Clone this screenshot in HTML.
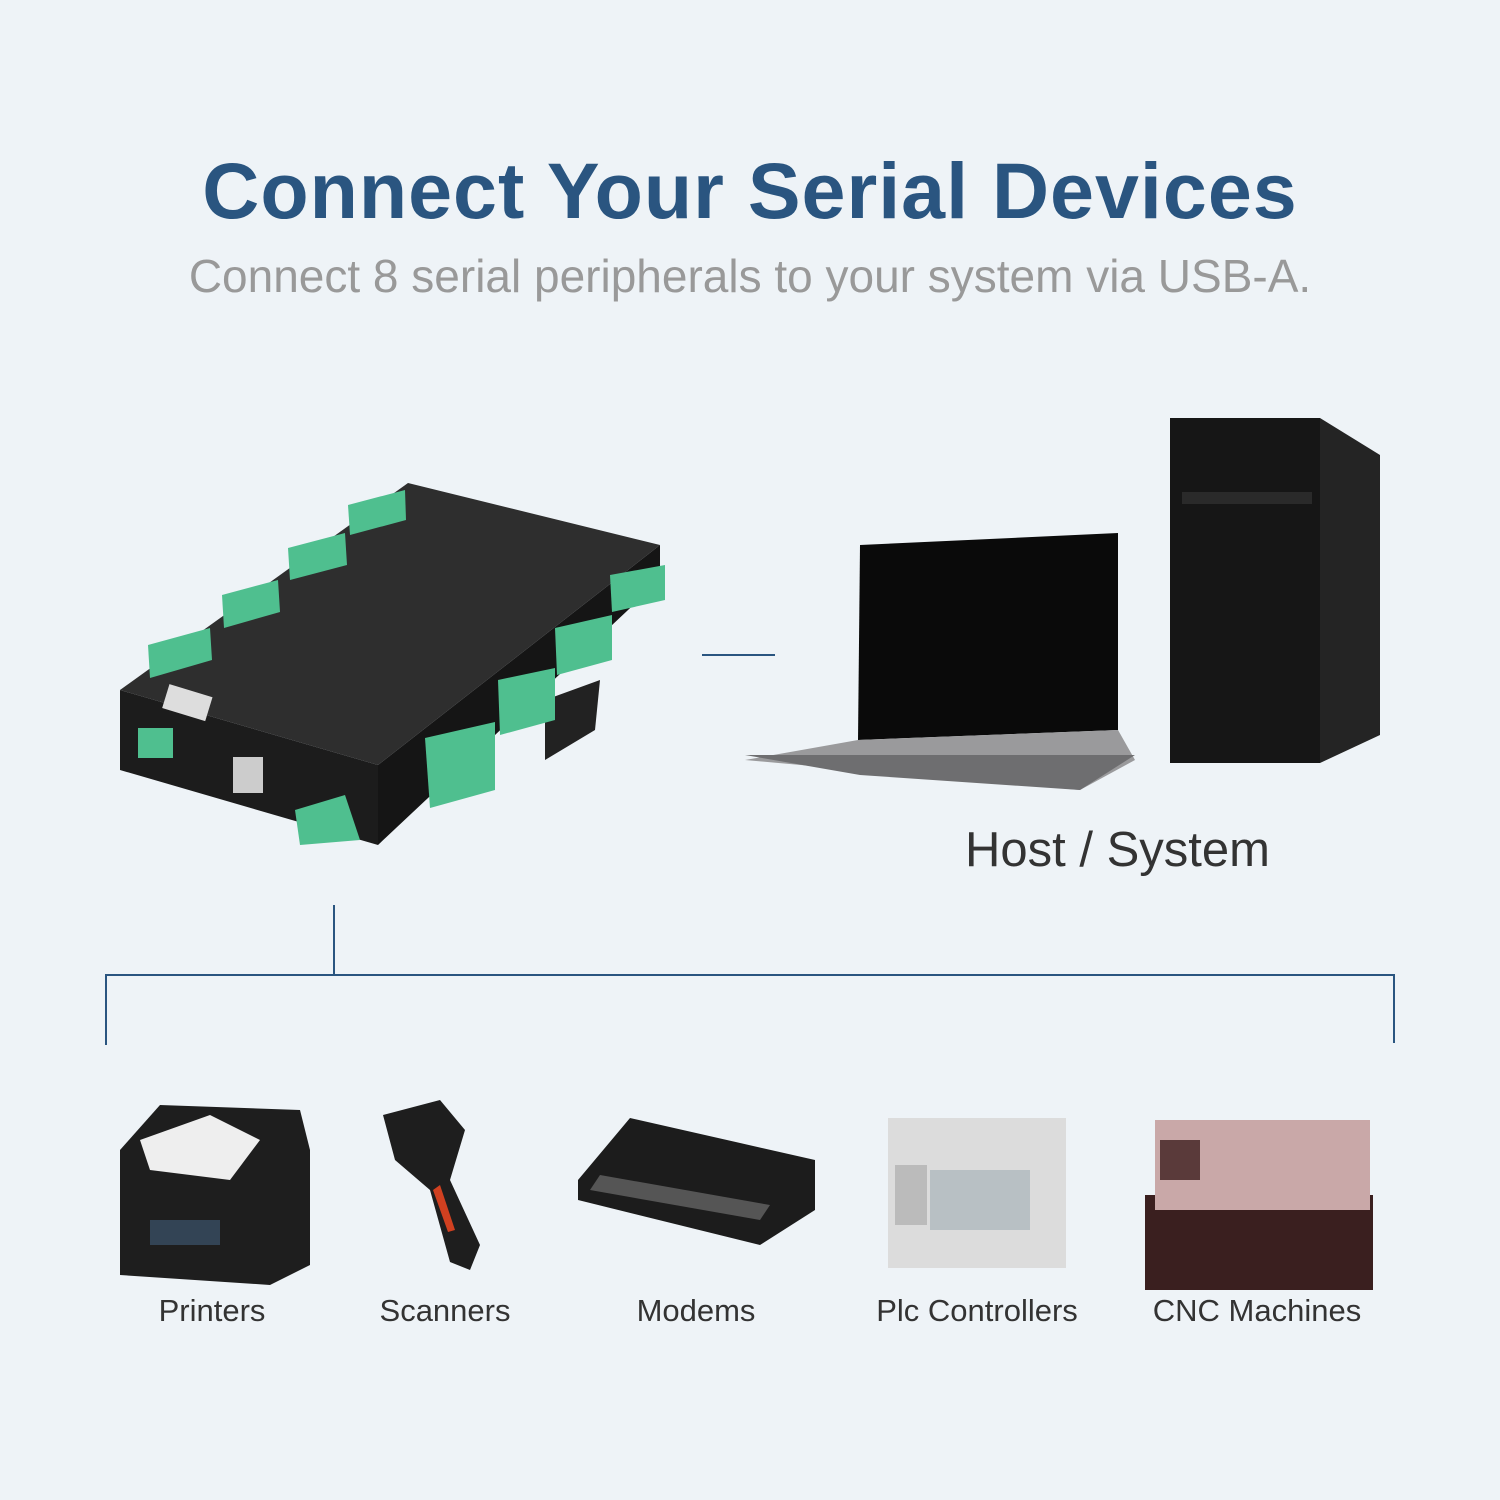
<!DOCTYPE html>
<html><head><meta charset="utf-8"><style>
html,body{margin:0;padding:0}
body{width:1500px;height:1500px;background:#eef3f7;position:relative;overflow:hidden;font-family:"Liberation Sans",sans-serif}
.t{position:absolute;left:0;width:1500px;text-align:center;white-space:nowrap}
.lbl{position:absolute;font-size:31px;color:#333;text-align:center;width:300px;top:1293px;white-space:nowrap}
</style></head><body>
<div class="t" style="top:145px;font-size:79px;font-weight:bold;color:#2a5580;letter-spacing:1px">Connect Your Serial Devices</div>
<div class="t" style="top:249px;font-size:46px;color:#999">Connect 8 serial peripherals to your system via USB-A.</div>
<div style="position:absolute;left:965px;top:822px;font-size:49px;color:#333;white-space:nowrap">Host / System</div>
<div class="lbl" style="left:62px">Printers</div>
<div class="lbl" style="left:295px">Scanners</div>
<div class="lbl" style="left:546px">Modems</div>
<div class="lbl" style="left:827px">Plc Controllers</div>
<div class="lbl" style="left:1107px">CNC Machines</div>
<svg width="1500" height="1500" style="position:absolute;left:0;top:0">
<g stroke="#2a5580" stroke-width="2" fill="none">
<line x1="702" y1="655" x2="775" y2="655"/>
<line x1="334" y1="905" x2="334" y2="975"/>
<polyline points="106,1045 106,975 1394,975 1394,1043"/>
</g>
<!-- hub -->
<polygon points="545,700 600,680 595,730 545,760" fill="#222"/>
<polygon points="120,690 378,765 378,845 120,770" fill="#1c1c1c"/>
<polygon points="378,765 660,545 660,580 378,845" fill="#151515"/>
<polygon points="120,690 408,483 660,545 378,765" fill="#2e2e2e"/>
<g fill="#4fbf8f">
<polygon points="148,645 210,628 212,660 150,678"/>
<polygon points="222,595 278,580 280,612 224,628"/>
<polygon points="288,548 345,533 347,565 290,580"/>
<polygon points="348,505 405,490 406,520 350,535"/>
<polygon points="610,575 665,565 665,600 612,612"/>
<polygon points="555,628 612,615 612,660 557,675"/>
<polygon points="498,680 555,668 555,720 500,735"/>
<polygon points="425,738 495,722 495,790 430,808"/>
<polygon points="295,810 345,795 360,840 300,845"/>
<rect x="138" y="728" width="35" height="30"/>
</g>
<rect x="233" y="757" width="30" height="36" fill="#ccc"/>
<rect x="165" y="690" width="45" height="25" fill="#ddd" transform="rotate(17 187 702)"/>
<!-- laptop -->
<polygon points="860,545 1118,533 1118,730 858,740" fill="#0a0a0a"/>
<polygon points="858,740 1118,730 1135,760 1080,790 745,760" fill="#9a9a9c"/>
<polygon points="745,755 1135,755 1080,790 860,775" fill="#6e6e70"/>
<!-- tower -->
<rect x="1170" y="418" width="150" height="345" fill="#161616"/>
<polygon points="1320,418 1380,455 1380,735 1320,763" fill="#242424"/>
<rect x="1182" y="492" width="130" height="12" fill="#2a2a2a"/>
<!-- printer -->
<polygon points="120,1150 160,1105 300,1110 310,1150 310,1265 270,1285 120,1275" fill="#1e1e1e"/>
<polygon points="140,1140 210,1115 260,1140 230,1180 150,1170" fill="#eee"/>
<rect x="150" y="1220" width="70" height="25" fill="#345"/>
<!-- scanner -->
<polygon points="383,1115 440,1100 465,1130 450,1180 480,1245 470,1270 450,1262 430,1190 395,1160" fill="#1e1e1e"/>
<polygon points="440,1185 455,1230 448,1232 433,1190" fill="#d04020"/>
<!-- modem -->
<polygon points="578,1180 630,1118 815,1160 815,1210 760,1245 578,1200" fill="#1c1c1c"/>
<polygon points="590,1190 760,1220 770,1205 600,1175" fill="#555"/>
<!-- PLC -->
<rect x="888" y="1118" width="178" height="150" fill="#dcdcdc"/>
<rect x="930" y="1170" width="100" height="60" fill="#b8c0c4"/>
<rect x="895" y="1165" width="32" height="60" fill="#bbb"/>
<!-- CNC -->
<rect x="1145" y="1195" width="228" height="95" fill="#3a1f1f"/>
<rect x="1155" y="1120" width="215" height="90" fill="#c9a8a8"/>
<rect x="1160" y="1140" width="40" height="40" fill="#5a3a3a"/>
</svg>
</body></html>
